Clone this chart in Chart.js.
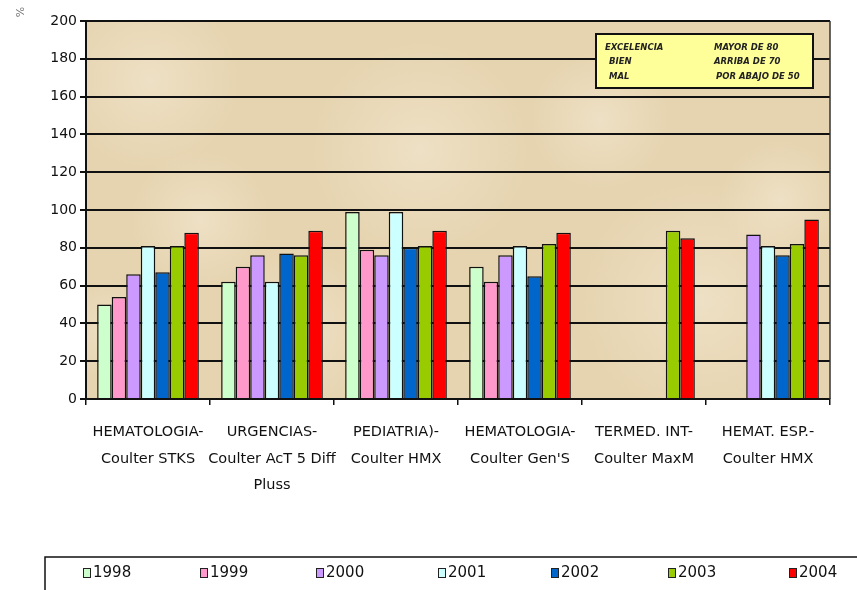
<!DOCTYPE html>
<html><head><meta charset="utf-8">
<script src="https://cdn.jsdelivr.net/npm/chart.js@4/dist/chart.umd.min.js"></script>
<style>html,body{margin:0;padding:0;background:#fff}#wrap{width:857px;height:590px;position:relative}</style>
</head><body><div id="wrap"><canvas id="c" width="857" height="590"></canvas></div>
<script>
const categories = [
  ["HEMATOLOGIA-", "Coulter STKS"],
  ["URGENCIAS-", "Coulter AcT 5 Diff", "Pluss"],
  ["PEDIATRIA)-", "Coulter HMX"],
  ["HEMATOLOGIA-", "Coulter Gen'S"],
  ["TERMED. INT-", "Coulter MaxM"],
  ["HEMAT. ESP.-", "Coulter HMX"]
];
const years = ["1998", "1999", "2000", "2001", "2002", "2003", "2004"];
const s1998 = [50, 62, 99, 70, null, null];
const s1999 = [54, 70, 79, 62, null, null];
const s2000 = [66, 76, 76, 76, null, 87];
const s2001 = [81, 62, 99, 81, null, 81];
const s2002 = [67, 77, 80, 65, null, 76];
const s2003 = [81, 76, 81, 82, 89, 82];
const s2004 = [88, 89, 89, 88, 85, 95];
const yTicks = [0, 20, 40, 60, 80, 100, 120, 140, 160, 180, 200];
const noteLeft = ["EXCELENCIA", "BIEN", "MAL"];
const noteRight = ["MAYOR DE 80", "ARRIBA DE 70", "POR ABAJO DE 50"];

const seriesValues = [s1998, s1999, s2000, s2001, s2002, s2003, s2004];
const colors = ["#CCFFCC", "#FF99CC", "#CC99FF", "#CCFFFF", "#0066CC", "#99CC00", "#FF0000"];

const FONT = "'DejaVu Sans', sans-serif";

const decor = {
  id: 'decor',
  beforeDraw(chart) {
    const {ctx, chartArea: a} = chart;
    ctx.save();
    ctx.fillStyle = '#E6D4B0';
    ctx.fillRect(a.left, a.top, a.right - a.left, a.bottom - a.top);
    const spots = [[150,80,90],[420,150,110],[700,300,120],[300,330,80],[600,120,70],[780,200,60],[200,220,70],[520,360,60],[110,330,50]];
    spots.forEach(([x,y,r]) => {
      const g = ctx.createRadialGradient(x,y,0,x,y,r);
      g.addColorStop(0,'rgba(243,232,210,0.6)');
      g.addColorStop(1,'rgba(243,232,210,0)');
      ctx.fillStyle = g;
      ctx.fillRect(a.left, a.top, a.right - a.left, a.bottom - a.top);
    });
    ctx.restore();
  },
  afterDraw(chart) {
    const {ctx, chartArea: a} = chart;
    ctx.save();
    ctx.strokeStyle = '#333'; ctx.lineWidth = 1.5;
    ctx.beginPath(); ctx.moveTo(a.right, a.top); ctx.lineTo(a.right, a.bottom); ctx.stroke();
    // note box
    ctx.fillStyle = '#FFFF99';
    ctx.fillRect(596, 34, 217, 54);
    ctx.strokeStyle = '#111'; ctx.lineWidth = 2;
    ctx.strokeRect(596, 34, 217, 54);
    ctx.fillStyle = '#222';
    ctx.font = "italic bold 8.5px " + FONT;
    ctx.textBaseline = 'middle';
    const ly = [48, 62, 77];
    const lx = [605, 609, 609];
    noteLeft.forEach((t,i) => ctx.fillText(t, lx[i], ly[i]));
    const rx = [714, 714, 716];
    noteRight.forEach((t,i) => ctx.fillText(t, rx[i], ly[i]));
    // % title
    ctx.save();
    ctx.translate(21, 12); ctx.rotate(-Math.PI/2);
    ctx.fillStyle = '#777'; ctx.font = "11px " + FONT;
    ctx.textAlign = 'center'; ctx.textBaseline = 'middle';
    ctx.fillText('%', 0, 0);
    ctx.restore();
    // legend
    ctx.strokeStyle = '#111'; ctx.lineWidth = 1.5;
    ctx.strokeRect(45, 557, 830, 50);
    const lxs = [83, 200, 316, 438, 551, 668, 789];
    ctx.font = "15px " + FONT;
    ctx.textBaseline = 'middle';
    chart.data.datasets.forEach((ds, i) => {
      const x = lxs[i], y = 573;
      ctx.fillStyle = ds.backgroundColor;
      ctx.fillRect(x, y - 5, 8, 10);
      ctx.strokeStyle = '#222'; ctx.lineWidth = 1;
      ctx.strokeRect(x + 0.5, y - 4.5, 7, 9);
      ctx.fillStyle = '#111';
      ctx.fillText(ds.label, x + 10, y);
    });
    ctx.restore();
  }
};

new Chart(document.getElementById('c'), {
  type: 'bar',
  data: {
    labels: categories,
    datasets: years.map((y, i) => ({
      label: y,
      data: seriesValues[i],
      backgroundColor: colors[i],
      borderColor: '#111',
      borderWidth: 1.5,
      categoryPercentage: 0.82,
      barPercentage: 1.0
    }))
  },
  options: {
    responsive: false,
    animation: false,
    layout: {padding: {top: 21, right: 27, left: 0, bottom: 0}},
    plugins: {legend: {display: false}, tooltip: {enabled: false}},
    scales: {
      y: {
        min: 0, max: 200,
        afterBuildTicks(scale) { scale.ticks = yTicks.map(v => ({value: v})); },
        afterFit(scale) { scale.width = 86; },
        ticks: {color: '#111', font: {family: FONT, size: 14}, padding: 3},
        grid: {color: '#111', lineWidth: 2, tickLength: 6, drawTicks: true},
        border: {display: true, color: '#111', width: 2}
      },
      x: {
        afterFit(scale) { scale.height = 191; },
        ticks: {color: '#111', font: {family: FONT, size: 14.5, lineHeight: 1.83}, padding: 14, maxRotation: 0, autoSkip: false},
        grid: {drawOnChartArea: false, drawTicks: true, tickLength: 6, color: '#111', lineWidth: 1.5, offset: true},
        border: {display: true, color: '#111', width: 2}
      }
    }
  },
  plugins: [decor]
});
</script></body></html>
